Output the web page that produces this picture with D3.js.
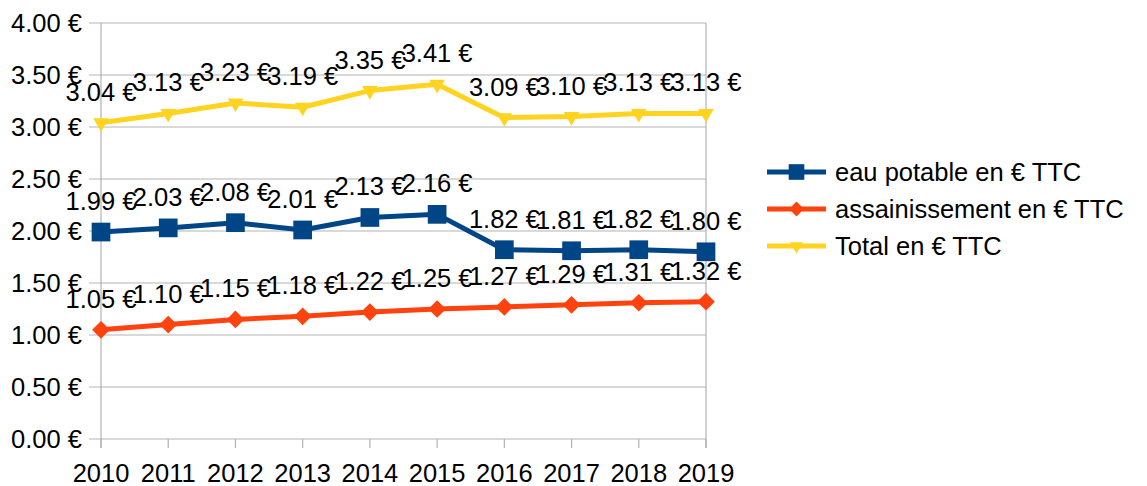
<!DOCTYPE html>
<html>
<head>
<meta charset="utf-8">
<script src="https://cdn.jsdelivr.net/npm/d3@7"></script>
<style>
  body { margin: 0; background: #fff; }
  text { font-family: "Liberation Sans", Arial, sans-serif; fill: #000; }
</style>
</head>
<body>
<svg class="chart"></svg>
<script>
const width = 1147,
  height = 486;

const years = ["2010", "2011", "2012", "2013", "2014", "2015", "2016", "2017", "2018", "2019"];
const eauPotable = [1.99, 2.03, 2.08, 2.01, 2.13, 2.16, 1.82, 1.81, 1.82, 1.80];
const assainissement = [1.05, 1.10, 1.15, 1.18, 1.22, 1.25, 1.27, 1.29, 1.31, 1.32];
const total = [3.04, 3.13, 3.23, 3.19, 3.35, 3.41, 3.09, 3.10, 3.13, 3.13];
const yTicks = [0, 0.5, 1, 1.5, 2, 2.5, 3, 3.5, 4];

const series = [
  { name: "eau potable en € TTC", values: eauPotable, color: "#004586", symbol: d3.symbolSquare, size: 350, rot: 0 },
  { name: "assainissement en € TTC", values: assainissement, color: "#ff420e", symbol: d3.symbolDiamond2, size: 200, rot: 0 },
  { name: "Total en € TTC", values: total, color: "#ffd320", symbol: d3.symbolTriangle2, size: 175, rot: 180 }
];

const fontSize = "25.5px";
const fmt = v => d3.format(".2f")(v) + " €";

let chart = d3.select(".chart")
  .attr("width", width)
  .attr("height", height);

let x = d3.scalePoint()
  .domain(years)
  .range([101, 706]);

let y = d3.scaleLinear()
  .domain([0, 4])
  .range([439, 23]);

// grid
chart.append("g").selectAll("line")
  .data(yTicks)
  .enter().append("line")
  .attr("x1", 89).attr("x2", 706)
  .attr("y1", d => y(d)).attr("y2", d => y(d))
  .attr("stroke", "#b3b3b3")
  .attr("stroke-width", 1.2);

chart.append("line")
  .attr("x1", 706).attr("x2", 706)
  .attr("y1", y(4)).attr("y2", y(0) + 9)
  .attr("stroke", "#b3b3b3").attr("stroke-width", 1.2);

// y axis
chart.append("line")
  .attr("x1", 101).attr("x2", 101)
  .attr("y1", y(4)).attr("y2", y(0) + 9)
  .attr("stroke", "#b3b3b3").attr("stroke-width", 1.2);

chart.append("g").selectAll("text")
  .data(yTicks)
  .enter().append("text")
  .attr("x", 82)
  .attr("y", d => y(d) + 9)
  .attr("text-anchor", "end")
  .style("font-size", fontSize)
  .text(d => fmt(d));

// x ticks + labels
chart.append("g").selectAll("line")
  .data(years)
  .enter().append("line")
  .attr("x1", d => x(d)).attr("x2", d => x(d))
  .attr("y1", y(0)).attr("y2", y(0) + 9)
  .attr("stroke", "#b3b3b3").attr("stroke-width", 1.2);

chart.append("g").selectAll("text")
  .data(years)
  .enter().append("text")
  .attr("x", d => x(d))
  .attr("y", 482)
  .attr("text-anchor", "middle")
  .style("font-size", fontSize)
  .text(d => d);

let line = d3.line()
  .x((d, i) => x(years[i]))
  .y(d => y(d));

series.forEach(s => {
  let g = chart.append("g");
  g.append("path")
    .datum(s.values)
    .attr("fill", "none")
    .attr("stroke", s.color)
    .attr("stroke-width", 5)
    .attr("stroke-linejoin", "round")
    .attr("d", line);
  g.selectAll(".m")
    .data(s.values)
    .enter().append("path")
    .attr("d", d3.symbol().type(s.symbol).size(s.size))
    .attr("fill", s.color)
    .attr("transform", (d, i) => `translate(${x(years[i])},${y(d)}) rotate(${s.rot})`);
});

// data labels (drawn after lines)
series.forEach(s => {
  chart.append("g").selectAll("text")
    .data(s.values)
    .enter().append("text")
    .attr("x", (d, i) => x(years[i]))
    .attr("y", d => y(d) - 22)
    .attr("text-anchor", "middle")
    .style("font-size", fontSize)
    .text(d => fmt(d));
});

// legend
let legend = chart.append("g")
  .attr("transform", "translate(767,172)");
series.forEach((s, i) => {
  let row = legend.append("g").attr("transform", `translate(0,${i * 37})`);
  row.append("line")
    .attr("x1", 0).attr("x2", 59)
    .attr("stroke", s.color).attr("stroke-width", 5);
  row.append("path")
    .attr("d", d3.symbol().type(s.symbol).size(s.size * 0.7))
    .attr("fill", s.color)
    .attr("transform", `translate(29.5,0) rotate(${s.rot})`);
  row.append("text")
    .attr("x", 68)
    .attr("y", 9)
    .style("font-size", fontSize)
    .text(s.name);
});
</script>
</body>
</html>
